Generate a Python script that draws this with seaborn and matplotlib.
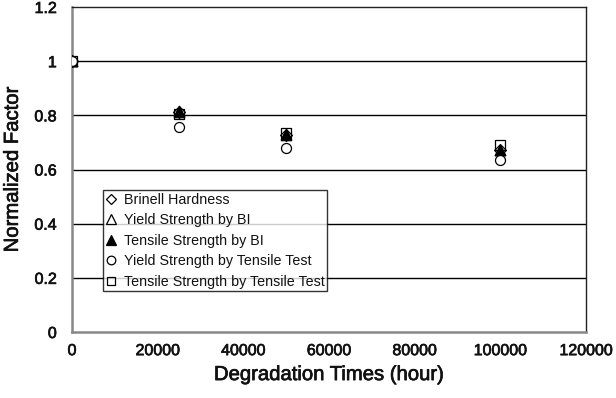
import matplotlib
matplotlib.use("Agg")
import matplotlib.pyplot as plt
import matplotlib.patheffects as pe
from matplotlib.lines import Line2D
import seaborn as sns
import pandas as pd

# Degradation times (hours) and normalized property factors
hours = [0, 25000, 50000, 100000]
brinell_hardness = [1.0, 0.812, 0.728, 0.672]
yield_bi = [1.0, 0.813, 0.729, 0.671]
tensile_bi = [1.0, 0.816, 0.730, 0.672]
yield_tensile_test = [1.0, 0.757, 0.680, 0.635]
tensile_tensile_test = [1.0, 0.805, 0.735, 0.690]

series_names = [
    "Brinell Hardness",
    "Yield Strength by BI",
    "Tensile Strength by BI",
    "Yield Strength by Tensile Test",
    "Tensile Strength by Tensile Test",
]
series_values = [brinell_hardness, yield_bi, tensile_bi,
                 yield_tensile_test, tensile_tensile_test]

x_ticks = [0, 20000, 40000, 60000, 80000, 100000, 120000]
y_ticks = [0, 0.2, 0.4, 0.6, 0.8, 1.0, 1.2]
y_tick_labels = ["0", "0.2", "0.4", "0.6", "0.8", "1", "1.2"]

sns.set_theme(style="white")
plt.rcParams["font.family"] = ["Liberation Sans", "DejaVu Sans"]

styles = {
    "Brinell Hardness": dict(marker="D", fc="white", ms=6.0),
    "Yield Strength by BI": dict(marker="^", fc="white", ms=7.5),
    "Tensile Strength by BI": dict(marker="^", fc="black", ms=7.5),
    "Yield Strength by Tensile Test": dict(marker="o", fc="white", ms=7.2),
    "Tensile Strength by Tensile Test": dict(marker="s", fc="none", ms=7.2),
}

frames = []
for name, vals in zip(series_names, series_values):
    frames.append(pd.DataFrame({"hours": hours, "factor": vals, "series": name}))
df = pd.concat(frames, ignore_index=True)

fig = plt.figure(figsize=(6.16, 3.98), dpi=100)
ax = fig.add_axes([0.1169, 0.1658, 0.8344, 0.8166])

for name in series_names:
    st = styles[name]
    sub = df[df["series"] == name]
    sns.scatterplot(data=sub, x="hours", y="factor", ax=ax,
                    marker=st["marker"], s=st["ms"] ** 2,
                    facecolor=st["fc"], edgecolor="black", linewidth=0.9,
                    legend=False, zorder=3)

ax.set_xlim(0, 120000)
ax.set_ylim(0, 1.2)
ax.set_xticks(x_ticks)
ax.set_xticklabels([str(t) for t in x_ticks])
ax.set_yticks(y_ticks)
ax.set_yticklabels(y_tick_labels)

for y in y_ticks[1:-1]:
    ax.axhline(y, color="black", lw=1.0, zorder=1)

for side in ["top", "right"]:
    ax.spines[side].set_color("#222222")
    ax.spines[side].set_linewidth(1.0)
for side in ["left", "bottom"]:
    ax.spines[side].set_color("#888888")
    ax.spines[side].set_linewidth(1.8)

heavy = [pe.withStroke(linewidth=0.5, foreground="#111111")]

ax.tick_params(axis="x", direction="in", length=4, width=1, color="#555555",
               labelsize=11.5, pad=8)
ax.tick_params(axis="y", direction="in", length=0, labelsize=11.5, pad=11)
for lab in ax.get_xticklabels() + ax.get_yticklabels():
    lab.set_color("#111111")
    lab.set_path_effects(heavy)

ax.set_xlabel("Degradation Times (hour)", fontsize=14.6, color="#111111",
              labelpad=5, path_effects=heavy)
ax.set_ylabel("Normalized Factor", fontsize=14.6, color="#111111",
              labelpad=9, path_effects=heavy)

handles = [
    Line2D([], [], ls="none", marker=styles[n]["marker"],
           markerfacecolor=styles[n]["fc"], markeredgecolor="black",
           markersize=styles[n]["ms"] - 1, markeredgewidth=0.9)
    for n in series_names
]
leg = ax.legend(handles, series_names, loc="upper left",
                bbox_to_anchor=(0.060, 0.437), frameon=True, fancybox=False,
                edgecolor="black", fontsize=10.3, handlelength=0.8,
                handletextpad=0.45, borderpad=0.2, labelspacing=0.45,
                borderaxespad=0)
leg.get_frame().set_linewidth(1.0)
leg.set_zorder(5)
for t in leg.get_texts():
    t.set_color("#111111")

fig.savefig("out.png", dpi=100, facecolor="white")
